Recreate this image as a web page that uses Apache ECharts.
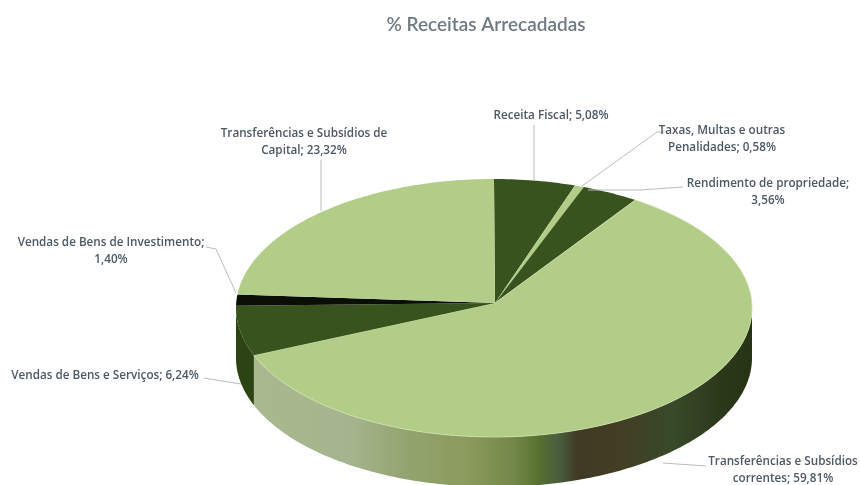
<!DOCTYPE html>
<html><head><meta charset="utf-8">
<style>html,body{margin:0;padding:0;background:#fff}#c{width:860px;height:485px}</style>
<script src="https://cdn.jsdelivr.net/npm/echarts@6/dist/echarts.min.js"></script>
</head><body><div id="c"></div>
<script>
const titleText = '% Receitas Arrecadadas';
const categories = ['Receita Fiscal','Taxas, Multas e outras Penalidades','Rendimento de propriedade','Transferências e Subsídios correntes','Vendas de Bens e Serviços','Vendas de Bens de Investimento','Transferências e Subsídios de Capital'];
const values = [5.08,0.58,3.56,59.81,6.24,1.40,23.32];
const labelLines = [
  ['Receita Fiscal; 5,08%'],
  ['Taxas, Multas e outras','Penalidades; 0,58%'],
  ['Rendimento de propriedade;','3,56%'],
  ['Transferências e Subsídios','correntes; 59,81%'],
  ['Vendas de Bens e Serviços; 6,24%'],
  ['Vendas de Bens de Investimento;','1,40%'],
  ['Transferências e Subsídios de','Capital; 23,32%']
];
// layout
const G = {cx:494, cy:308, rx:258, ry:129, hubY:303, depth:50};
const LIGHT='#b2cd87', DARK='#38531d', BLACK='#0a0f06';
const topColors = [DARK,LIGHT,DARK,LIGHT,DARK,BLACK,LIGHT];
const labelPos = [[551,116],[722,139],[768,192],[783,470],[105,376],[111,251],[304,142]];
const leaders = [
  [[534,125],[534,181]],
  [[664,132],[657,132],[582,186]],
  [[683,187],[640,190],[588,190]],
  [[706,466],[663,463]],
  [[204,378],[241,384]],
  [[206,247],[216,249],[236,293]],
  [[321,160],[321,211]]
];
const total = values.reduce((a,b)=>a+b,0);
const starts = []; values.reduce((a,v,i)=>{starts[i]=a; return a+v;},0);
const rim = deg => {const t=deg*Math.PI/180; return [G.cx+G.rx*Math.sin(t), G.cy-G.ry*Math.cos(t)];};
function arc(a,b){const pts=[];const n=Math.max(2,Math.ceil(Math.abs(b-a)));for(let i=0;i<=n;i++)pts.push(rim(a+(b-a)*i/n));return pts;}
const sideGrad = new echarts.graphic.LinearGradient(0,0,1,0,[
  {offset:0,color:'#a9b88f'},{offset:.2,color:'#a5b48c'},{offset:.3,color:'#93a570'},
  {offset:.43,color:'#8b9a5c'},{offset:.52,color:'#73884a'},{offset:.575,color:'#55702e'},
  {offset:.61,color:'#4a5f40'},{offset:.65,color:'#403a24'},{offset:.74,color:'#423e24'},
  {offset:.84,color:'#384a2a'},{offset:.93,color:'#2c3a1c'},{offset:1,color:'#263414'}
]);
function renderSide(params,api){
  const i=params.dataIndex;
  const a=Math.max(90,starts[i]/total*360), b=Math.min(270,(starts[i]+api.value(0))/total*360);
  if(b<=a) return {type:'group',children:[]};
  const up=arc(a,b), down=up.slice().reverse().map(p=>[p[0],p[1]+G.depth]);
  return {type:'polygon',shape:{points:up.concat(down)},style:{fill:topColors[i]===LIGHT?sideGrad:'#2c4414'},silent:true};
}
function renderTop(params,api){
  const i=params.dataIndex;
  const a=starts[i]/total*360, b=(starts[i]+api.value(0))/total*360;
  const pts=[[G.cx+1,G.hubY]].concat(arc(a,b));
  return {type:'polygon',shape:{points:pts},style:{fill:topColors[i],stroke:'#cfe0ad',lineWidth:i===3?.8:0},silent:true};
}
function renderLabel(params){
  const i=params.dataIndex, ch=[];
  ch.push({type:'polyline',shape:{points:leaders[i]},style:{stroke:'#b7bec2',lineWidth:1,fill:null},silent:true});
  labelLines[i].forEach((t,k)=>{
    const n=labelLines[i].length;
    ch.push({type:'text',x:labelPos[i][0],y:labelPos[i][1]+(k-(n-1)/2)*17,
      style:{text:t,fill:'#4c5864',font:'600 11.7px "Open Sans", sans-serif',align:'center',verticalAlign:'middle'},silent:true});
  });
  return {type:'group',children:ch};
}
const seriesData = values.map((v,i)=>({name:categories[i],value:[v]}));
const chart = echarts.init(document.getElementById('c'),null,{renderer:'canvas'});
chart.setOption({
  animation:false, backgroundColor:'#ffffff',
  title:{text:titleText,left:481,top:10,textAlign:'center',textStyle:{color:'#6f7a84',fontSize:19,fontWeight:600,fontFamily:'Lato, sans-serif'}},
  tooltip:{show:false},
  series:[
    {type:'custom',coordinateSystem:'none',renderItem:renderSide,data:seriesData,z:1,clip:false},
    {type:'custom',coordinateSystem:'none',renderItem:renderTop,data:seriesData,z:2,clip:false},
    {type:'custom',coordinateSystem:'none',renderItem:renderLabel,data:seriesData,z:3,clip:false}
  ]
});
</script></body></html>
